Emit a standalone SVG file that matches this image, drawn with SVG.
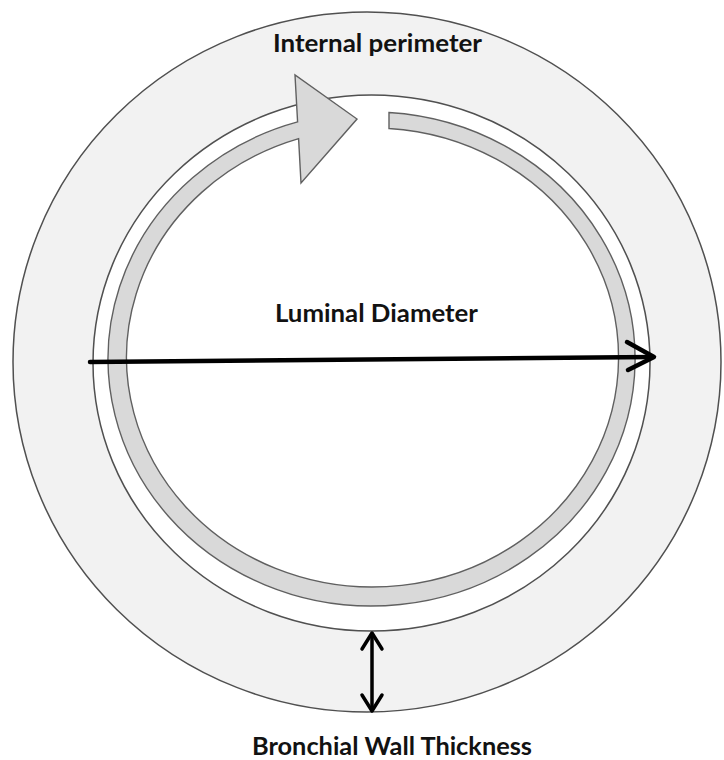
<svg xmlns="http://www.w3.org/2000/svg" width="724" height="760" viewBox="0 0 724 760">
<style>
.wall{fill:#f2f2f2;stroke:#505050;stroke-width:1.5}
.lumen{fill:#ffffff;stroke:#505050;stroke-width:1.5}
.band{fill:#d9d9d9;stroke:#606060;stroke-width:1.4;stroke-linejoin:miter}
.lbl{font-family:Lato,"Liberation Sans",sans-serif;font-weight:bold;font-size:24px;fill:#121212;text-anchor:middle}
.arr{fill:none;stroke:#000;stroke-linecap:round;stroke-linejoin:round}
</style>
<rect width="724" height="760" fill="#ffffff"/>
<g id="bronchial-wall">
<ellipse class="wall" cx="367" cy="362" rx="354" ry="350"/>
</g>
<g id="lumen">
<ellipse class="lumen" cx="371.5" cy="363" rx="278.5" ry="268"/>
</g>
<g id="internal-perimeter-arrow">
<path class="band" d="M389,112.5 A263.5,247 0 1 1 297.6,121.9 L295,75 L357,119 L301,183 L298.6,138.6 A246,229.5 0 1 0 389,128.5 Z"/>
</g>
<g id="connectors">
<g id="luminal-diameter-arrow">
<path class="arr" stroke-width="4.5" d="M90,362 L653,357"/>
<path class="arr" stroke-width="4.5" d="M627,342 L654,357 L628,370"/>
</g>
<g id="wall-thickness-arrow">
<path class="arr" stroke-width="3.5" d="M372,634 L372,710"/>
<path class="arr" stroke-width="3.5" d="M362,649 L372,633 L382,649"/>
<path class="arr" stroke-width="3.5" d="M362,695 L372,711 L382,695"/>
</g>
</g>
<g id="labels">
<text class="lbl" x="377.5" y="52" textLength="209" lengthAdjust="spacingAndGlyphs">Internal perimeter</text>
<text class="lbl" x="376.5" y="322" textLength="203" lengthAdjust="spacingAndGlyphs">Luminal Diameter</text>
<text class="lbl" x="392" y="755" textLength="280" lengthAdjust="spacingAndGlyphs">Bronchial Wall Thickness</text>
</g>
</svg>
